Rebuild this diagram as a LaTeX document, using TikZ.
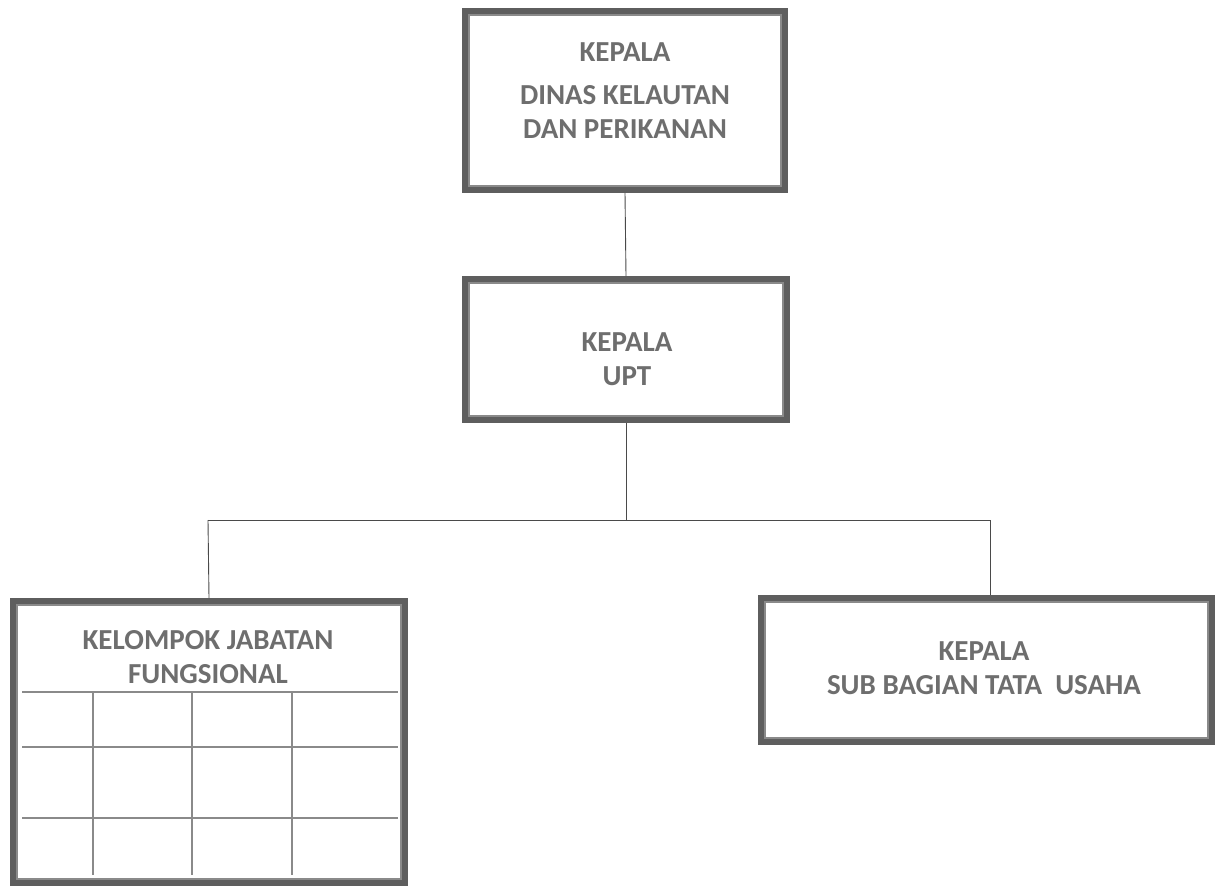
\documentclass[tikz,border=0pt]{standalone}
\usepackage{fontspec}
\setmainfont{Carlito}
\definecolor{frame}{HTML}{5E5E5E}
\definecolor{inner}{HTML}{8A8A8A}
\definecolor{txt}{HTML}{6E6E6E}
\definecolor{wire}{HTML}{4A4A4A}
\tikzset{
  orgbox/.style={draw=frame, line width=8pt, fill=white, inner sep=0pt},
  innerline/.style={draw=inner, line width=1.6pt},
  gridline/.style={draw=inner, line width=1.1pt},
  wireline/.style={draw=wire, line width=0.9pt},
  label/.style={text=txt, font=\fontsize{29}{34}\selectfont\bfseries, align=center, inner sep=0pt}
}
\begin{document}
\begin{tikzpicture}[x=1pt,y=-1pt]
\useasboundingbox (0,0) rectangle (1218,888);
% connectors
\coordinate (j) at (626,520);
\coordinate (l) at (208,520);
\coordinate (r) at (990,520);
% boxes
\node[orgbox, minimum width=318pt, minimum height=177pt] (b1) at (625,100.5) {};
\node[orgbox, minimum width=320pt, minimum height=139pt] (b2) at (626,349.5) {};
\node[orgbox, minimum width=390pt, minimum height=280pt] (b3) at (209,742) {};
\node[orgbox, minimum width=449pt, minimum height=142pt] (b4) at (986.5,670) {};
\foreach \b in {b1,b2,b3,b4}{
  \draw[innerline] ([xshift=7pt,yshift=-7pt]\b.north west) rectangle ([xshift=-7pt,yshift=7pt]\b.south east);
}
\draw[wireline] (b1.south) -- (b2.north);
\draw[wireline] (b2.south) -- (j);
\draw[wireline] (l) -- (r);
\draw[wireline] (l) -- (b3.north);
\draw[wireline] (r) -- (r |- b4.north);
% grid in box 3
\foreach \y in {692,747,818}{
  \draw[gridline] (22,\y) -- (398,\y);
}
\foreach \x in {93,192,292}{
  \draw[gridline] (\x,692) -- (\x,875);
}
% texts
\node[label] (t1) at (625,52) {KEPALA};
\node[label] (t1b) at (625,112) {DINAS KELAUTAN\\DAN PERIKANAN};
\node[label] (t2) at (627,359) {KEPALA\\UPT};
\node[label] (t3) at (208,657) {KELOMPOK JABATAN\\FUNGSIONAL};
\node[label] (t4) at (984,668) {KEPALA\\SUB BAGIAN TATA\ \ USAHA};
\end{tikzpicture}
\end{document}
